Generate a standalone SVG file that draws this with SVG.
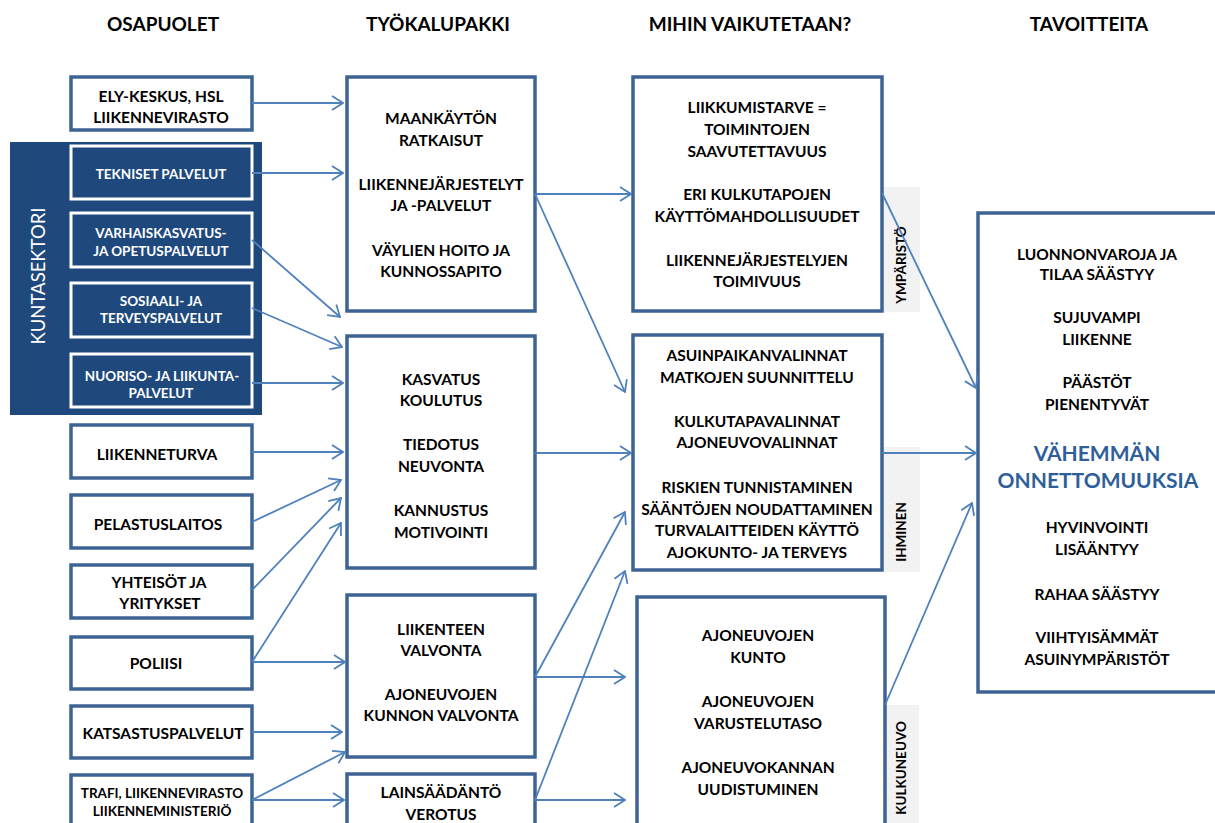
<svg xmlns="http://www.w3.org/2000/svg" width="1215" height="823" viewBox="0 0 1215 823">
<defs>
<style>
.t{font-family:Lato,"Liberation Sans",sans-serif;font-weight:bold;font-size:15.5px;fill:#000;text-anchor:middle}
.h{font-family:Lato,"Liberation Sans",sans-serif;font-weight:bold;font-size:19px;fill:#000;text-anchor:middle}
.w{font-family:Lato,"Liberation Sans",sans-serif;font-weight:bold;font-size:13.5px;fill:#fff;text-anchor:middle}
.s{font-family:Lato,"Liberation Sans",sans-serif;font-weight:bold;font-size:13.5px;fill:#000;text-anchor:middle}
.v{font-family:Lato,"Liberation Sans",sans-serif;font-weight:bold;font-size:13.5px;fill:#000;text-anchor:middle}
.big{font-family:Lato,"Liberation Sans",sans-serif;font-weight:bold;font-size:21px;fill:#2E5F9A;text-anchor:middle}
.box{fill:#fff;stroke:#3D6394;stroke-width:3.5}
.kb{fill:#1F497D;stroke:#fff;stroke-width:3}
.grey{fill:#F2F2F2}
.c{stroke:#4F81BD;stroke-width:1.8;fill:none;marker-end:url(#a)}
</style>
<marker id="a" viewBox="0 0 13 16" refX="12" refY="8" markerWidth="13" markerHeight="16" markerUnits="userSpaceOnUse" orient="auto">
<path d="M1,1 L12,8 L1,15" fill="none" stroke="#4F81BD" stroke-width="1.8"/>
</marker>
</defs>
<rect width="1215" height="823" fill="#fff"/>

<g id="headers">
<text class="h" x="163" y="31">OSAPUOLET</text>
<text class="h" x="438" y="31">TYÖKALUPAKKI</text>
<text class="h" x="750" y="31">MIHIN VAIKUTETAAN?</text>
<text class="h" x="1089" y="31">TAVOITTEITA</text>
</g>

<g id="kuntasektori">
<rect x="10" y="142" width="252" height="273" fill="#1F497D"/>
<text transform="translate(45,276) rotate(-90)" font-family="Lato,'Liberation Sans',sans-serif" font-size="18.5" fill="#fff" text-anchor="middle">KUNTASEKTORI</text>
</g>

<g id="ely"><rect class="box" x="71" y="77" width="181" height="53"/>
<text class="t" x="161" y="102">ELY-KESKUS, HSL</text><text class="t" x="161" y="123">LIIKENNEVIRASTO</text></g>
<g id="tekniset"><rect class="kb" x="71" y="146" width="181" height="53"/>
<text class="w" x="161" y="179">TEKNISET PALVELUT</text></g>
<g id="varhais"><rect class="kb" x="71" y="213" width="181" height="54"/>
<text class="w" x="161" y="238">VARHAISKASVATUS-</text><text class="w" x="161" y="256">JA OPETUSPALVELUT</text></g>
<g id="sosiaali"><rect class="kb" x="71" y="283" width="181" height="54"/>
<text class="w" x="161" y="306">SOSIAALI- JA</text><text class="w" x="161" y="323">TERVEYSPALVELUT</text></g>
<g id="nuoriso"><rect class="kb" x="71" y="354" width="181" height="53"/>
<text class="w" x="162" y="381">NUORISO- JA LIIKUNTA-</text><text class="w" x="161" y="398">PALVELUT</text></g>
<g id="liikenneturva"><rect class="box" x="71" y="425" width="181" height="53"/>
<text class="t" x="157" y="460">LIIKENNETURVA</text></g>
<g id="pelastus"><rect class="box" x="71" y="495" width="181" height="53"/>
<text class="t" x="158" y="530">PELASTUSLAITOS</text></g>
<g id="yhteisot"><rect class="box" x="71" y="565" width="181" height="53"/>
<text class="t" x="159" y="588">YHTEISÖT JA</text><text class="t" x="160" y="609">YRITYKSET</text></g>
<g id="poliisi"><rect class="box" x="71" y="637" width="181" height="52"/>
<text class="t" x="156" y="669">POLIISI</text></g>
<g id="katsastus"><rect class="box" x="71" y="706" width="181" height="52"/>
<text class="t" x="163" y="739">KATSASTUSPALVELUT</text></g>
<g id="trafi"><rect class="box" x="71" y="775" width="181" height="60"/>
<text class="s" x="162" y="798">TRAFI, LIIKENNEVIRASTO</text><text class="s" x="162" y="816">LIIKENNEMINISTERIÖ</text></g>

<g id="maankaytto"><rect class="box" x="347" y="77" width="188" height="234"/>
<text class="t" x="441" y="124">MAANKÄYTÖN</text><text class="t" x="441" y="146">RATKAISUT</text>
<text class="t" x="441" y="190">LIIKENNEJÄRJESTELYT</text><text class="t" x="441" y="211">JA -PALVELUT</text>
<text class="t" x="441" y="256">VÄYLIEN HOITO JA</text><text class="t" x="441" y="277">KUNNOSSAPITO</text></g>
<g id="kasvatus"><rect class="box" x="347" y="336" width="188" height="232"/>
<text class="t" x="441" y="385">KASVATUS</text><text class="t" x="441" y="406">KOULUTUS</text>
<text class="t" x="441" y="450">TIEDOTUS</text><text class="t" x="441" y="472">NEUVONTA</text>
<text class="t" x="441" y="516">KANNUSTUS</text><text class="t" x="441" y="538">MOTIVOINTI</text></g>
<g id="valvonta"><rect class="box" x="347" y="595" width="188" height="162"/>
<text class="t" x="441" y="635">LIIKENTEEN</text><text class="t" x="441" y="656">VALVONTA</text>
<text class="t" x="441" y="700">AJONEUVOJEN</text><text class="t" x="441" y="721">KUNNON VALVONTA</text></g>
<g id="lainsaadanto"><rect class="box" x="347" y="774" width="188" height="70"/>
<text class="t" x="441" y="798">LAINSÄÄDÄNTÖ</text><text class="t" x="441" y="820">VEROTUS</text></g>

<g id="ymparisto-label"><rect class="grey" x="883" y="187" width="37" height="125"/>
<text class="v" transform="translate(906,265) rotate(-90)">YMPÄRISTÖ</text></g>
<g id="ihminen-label"><rect class="grey" x="883" y="447" width="37" height="125"/>
<text class="v" transform="translate(906,532) rotate(-90)">IHMINEN</text></g>
<g id="kulkuneuvo-label"><rect class="grey" x="882" y="705" width="37" height="130"/>
<text class="v" transform="translate(906,768) rotate(-90)">KULKUNEUVO</text></g>

<g id="liikkumistarve"><rect class="box" x="633" y="77" width="249" height="234"/>
<text class="t" x="757" y="113">LIIKKUMISTARVE =</text><text class="t" x="757" y="135">TOIMINTOJEN</text><text class="t" x="757" y="157">SAAVUTETTAVUUS</text>
<text class="t" x="757" y="200">ERI KULKUTAPOJEN</text><text class="t" x="757" y="222">KÄYTTÖMAHDOLLISUUDET</text>
<text class="t" x="757" y="266">LIIKENNEJÄRJESTELYJEN</text><text class="t" x="757" y="287">TOIMIVUUS</text></g>
<g id="valinnat"><rect class="box" x="633" y="335" width="249" height="235" stroke="#1F497D"/>
<text class="t" x="757" y="361">ASUINPAIKANVALINNAT</text><text class="t" x="757" y="383">MATKOJEN SUUNNITTELU</text>
<text class="t" x="757" y="427">KULKUTAPAVALINNAT</text><text class="t" x="757" y="448">AJONEUVOVALINNAT</text>
<text class="t" x="757" y="493">RISKIEN TUNNISTAMINEN</text><text class="t" x="757" y="515">SÄÄNTÖJEN NOUDATTAMINEN</text>
<text class="t" x="757" y="536">TURVALAITTEIDEN KÄYTTÖ</text><text class="t" x="757" y="558">AJOKUNTO- JA TERVEYS</text></g>
<g id="ajoneuvot"><rect class="box" x="637" y="597" width="248" height="240"/>
<text class="t" x="758" y="641">AJONEUVOJEN</text><text class="t" x="758" y="663">KUNTO</text>
<text class="t" x="758" y="707">AJONEUVOJEN</text><text class="t" x="758" y="729">VARUSTELUTASO</text>
<text class="t" x="758" y="773">AJONEUVOKANNAN</text><text class="t" x="758" y="795">UUDISTUMINEN</text></g>

<g id="tavoitteet"><rect class="box" x="978" y="213" width="260" height="479"/>
<text class="t" x="1097" y="260">LUONNONVAROJA JA</text><text class="t" x="1097" y="280">TILAA SÄÄSTYY</text>
<text class="t" x="1097" y="323">SUJUVAMPI</text><text class="t" x="1097" y="345">LIIKENNE</text>
<text class="t" x="1097" y="388">PÄÄSTÖT</text><text class="t" x="1097" y="410">PIENENTYVÄT</text>
<text class="big" x="1097" y="461">VÄHEMMÄN</text><text class="big" x="1098" y="488">ONNETTOMUUKSIA</text>
<text class="t" x="1097" y="533">HYVINVOINTI</text><text class="t" x="1097" y="555">LISÄÄNTYY</text>
<text class="t" x="1097" y="600">RAHAA SÄÄSTYY</text>
<text class="t" x="1097" y="643">VIIHTYISÄMMÄT</text><text class="t" x="1097" y="665">ASUINYMPÄRISTÖT</text></g>

<g id="connectors">
<line class="c" x1="252" y1="103" x2="343" y2="103"/>
<line class="c" x1="252" y1="173" x2="343" y2="173"/>
<line class="c" x1="252" y1="240" x2="340" y2="317"/>
<line class="c" x1="252" y1="308" x2="342" y2="347"/>
<line class="c" x1="252" y1="383" x2="343" y2="383"/>
<line class="c" x1="252" y1="452" x2="343" y2="452"/>
<line class="c" x1="252" y1="522" x2="341" y2="480"/>
<line class="c" x1="252" y1="590" x2="341" y2="498"/>
<line class="c" x1="252" y1="662" x2="341" y2="523"/>
<line class="c" x1="252" y1="662" x2="345" y2="662"/>
<line class="c" x1="252" y1="732" x2="342" y2="732"/>
<line class="c" x1="252" y1="800" x2="345" y2="752"/>
<line class="c" x1="252" y1="800" x2="344" y2="800"/>
<line class="c" x1="535" y1="194" x2="631" y2="194"/>
<line class="c" x1="535" y1="194" x2="625" y2="392"/>
<line class="c" x1="535" y1="453" x2="631" y2="453"/>
<line class="c" x1="535" y1="677" x2="625" y2="512"/>
<line class="c" x1="535" y1="677" x2="625" y2="677"/>
<line class="c" x1="535" y1="800" x2="625" y2="571"/>
<line class="c" x1="535" y1="800" x2="625" y2="800"/>
<line class="c" x1="882" y1="193" x2="976" y2="388"/>
<line class="c" x1="882" y1="453" x2="976" y2="453"/>
<line class="c" x1="885" y1="705" x2="972" y2="503"/>
</g>
</svg>
